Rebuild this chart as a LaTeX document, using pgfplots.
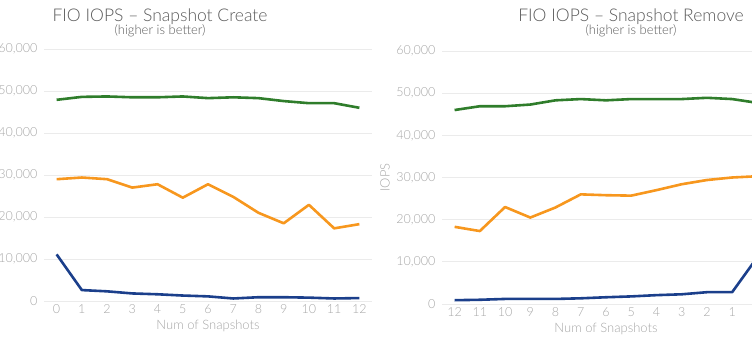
\documentclass[border=0pt]{standalone}
\usepackage{fontspec}
\setmainfont{Lato}
\newfontfamily\lightfont{Lato Light}
\usepackage{pgfplots}
\pgfplotsset{compat=1.18}
\definecolor{cgreen}{HTML}{2F7D2B}
\definecolor{corange}{HTML}{F7971E}
\definecolor{cblue}{HTML}{1B3F8B}
\definecolor{ticktext}{HTML}{A6A6A6}
\definecolor{gridc}{HTML}{EBEBEB}
\definecolor{titlec}{HTML}{595959}
\pgfplotsset{mystyle/.style={
  scale only axis, width=328pt,
  xmin=-0.5, xmax=12.5, ymin=0, ymax=60000,
  ytick={0,10000,20000,30000,40000,50000,60000}, xtick={0,...,12},
  axis line style={draw=none},
  major tick length=0pt,
  ymajorgrids, grid style={draw=gridc, line width=0.8pt},
  tick label style={font=\lightfont\fontsize{12.5}{14}\selectfont, text=ticktext},
  yticklabel style={xshift=-3pt},
  scaled y ticks=false,
  /pgf/number format/assume math mode=true,
  /pgf/number format/1000 sep={,},
  xlabel={Num of Snapshots}, ylabel={IOPS},
  label style={font=\lightfont\fontsize{13}{15}\selectfont, text=ticktext},
  every axis plot/.append style={line width=2.6pt, mark=none, line join=round},
}}
\begin{document}
\begin{tikzpicture}[x=1pt,y=1pt]
\useasboundingbox (0,0) rectangle (752,350);
\clip (0,0) rectangle (752,350);
\begin{axis}[mystyle, at={(44pt,49pt)}, anchor=south west, height=252pt]
\addplot[cgreen] coordinates {(0,47900)(1,48600)(2,48700)(3,48500)(4,48500)(5,48700)(6,48300)(7,48500)(8,48300)(9,47600)(10,47100)(11,47100)(12,46000)};
\addplot[corange] coordinates {(0,29000)(1,29400)(2,29000)(3,27000)(4,27800)(5,24600)(6,27800)(7,24800)(8,21000)(9,18500)(10,22900)(11,17300)(12,18300)};
\addplot[cblue] coordinates {(0,11100)(1,2600)(2,2300)(3,1800)(4,1600)(5,1300)(6,1100)(7,600)(8,900)(9,900)(10,800)(11,600)(12,700)};
\end{axis}
\begin{axis}[mystyle, at={(442pt,46pt)}, anchor=south west, height=253pt, x dir=reverse]
\addplot[cgreen] coordinates {(12,46000)(11,46900)(10,46900)(9,47300)(8,48300)(7,48600)(6,48300)(5,48600)(4,48600)(3,48600)(2,48900)(1,48600)(0,47700)};
\addplot[corange] coordinates {(12,18300)(11,17300)(10,23000)(9,20500)(8,22900)(7,26000)(6,25800)(5,25700)(4,27000)(3,28400)(2,29400)(1,30000)(0,30300)};
\addplot[cblue] coordinates {(12,900)(11,1000)(10,1200)(9,1200)(8,1200)(7,1350)(6,1600)(5,1800)(4,2100)(3,2300)(2,2800)(1,2800)(0,11100)};
\end{axis}
\node[text=titlec, font=\lightfont\fontsize{17.5}{20}\selectfont] at (160,333) {FIO IOPS – Snapshot Create};
\node[text=titlec, font=\lightfont\fontsize{13}{15}\selectfont] at (160,319) {(higher is better)};
\node[text=titlec, font=\lightfont\fontsize{17.5}{20}\selectfont] at (631,333) {FIO IOPS – Snapshot Remove};
\node[text=titlec, font=\lightfont\fontsize{13}{15}\selectfont] at (631,319) {(higher is better)};
\end{tikzpicture}
\end{document}
